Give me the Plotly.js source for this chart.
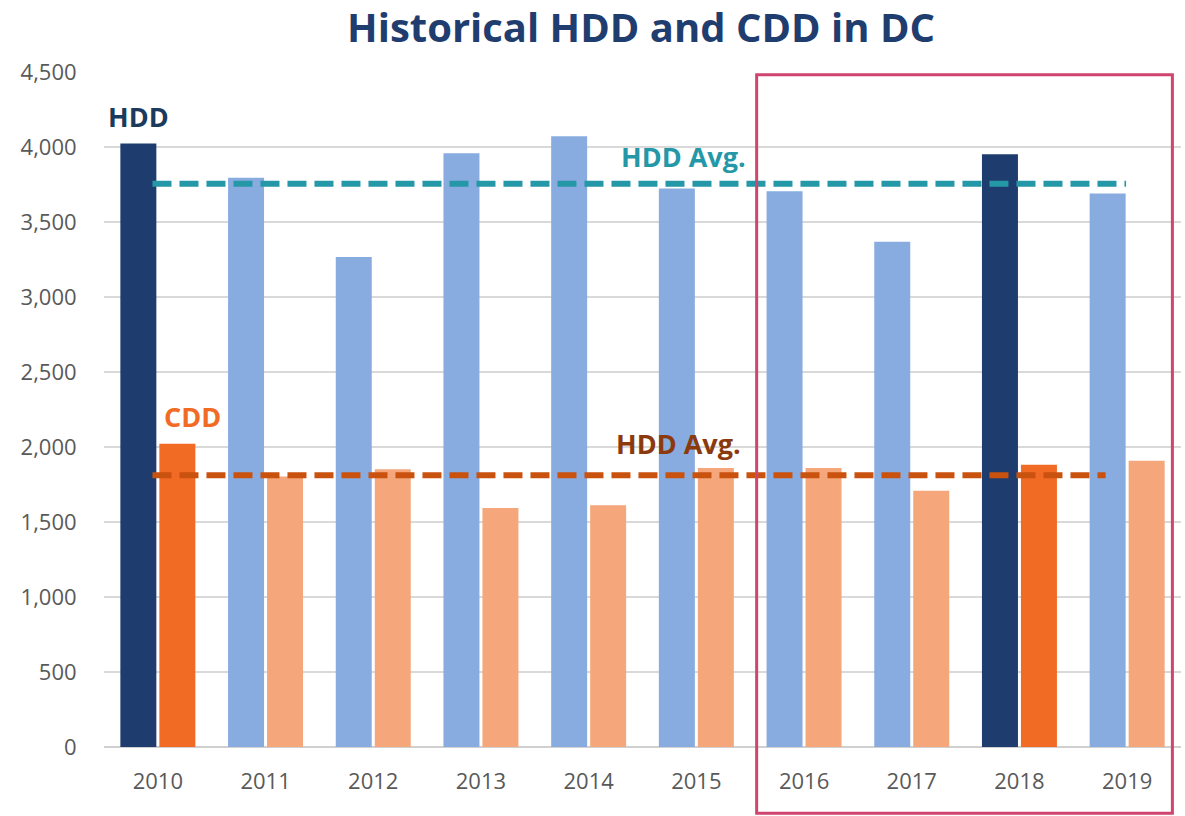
<!DOCTYPE html>
<html>
<head>
<meta charset="utf-8">
<script src="https://cdn.plot.ly/plotly-3.0.1.min.js"></script>
<style>
  html, body { margin: 0; padding: 0; background: #ffffff; }
  #chart { width: 1185px; height: 816px; }
</style>
</head>
<body>
<div id="chart"></div>
<script>
// ---- data ----
const years = ['2010', '2011', '2012', '2013', '2014', '2015', '2016', '2017', '2018', '2019'];
const hddValues = [4024, 3795, 3266, 3958, 4071, 3723, 3705, 3368, 3951, 3690];
const cddValues = [2022, 1804, 1851, 1593, 1611, 1860, 1860, 1709, 1882, 1909];
const highlightYears = ['2010', '2018'];
const hddAvg = 3755;
const cddAvg = 1811;
const yTicks = [0, 500, 1000, 1500, 2000, 2500, 3000, 3500, 4000, 4500];
const boxedYears = ['2016', '2019'];

// ---- styles ----
const HDD_DARK = '#1E3C6E', HDD_LIGHT = '#88ACE0';
const CDD_DARK = '#F26B25', CDD_LIGHT = '#F5A67B';
const hddColors = years.map(y => highlightYears.includes(y) ? HDD_DARK : HDD_LIGHT);
const cddColors = years.map(y => highlightYears.includes(y) ? CDD_DARK : CDD_LIGHT);

const FONT = 'Open Sans, Noto Sans, sans-serif';
const idx = y => years.indexOf(y);

const traces = [
  { type: 'bar', name: 'HDD', x: years, y: hddValues,
    marker: { color: hddColors, line: { width: 0 } }, hoverinfo: 'x+y' },
  { type: 'bar', name: 'CDD', x: years, y: cddValues,
    marker: { color: cddColors, line: { width: 0 } }, hoverinfo: 'x+y' }
];

const layout = {
  width: 1185, height: 816,
  paper_bgcolor: '#ffffff', plot_bgcolor: '#ffffff',
  margin: { l: 104, r: 4, t: 72, b: 69 },
  barmode: 'group',
  bargap: 0.276,
  bargroupgap: 0.077,
  showlegend: false,
  title: {
    text: '<b>Historical HDD and CDD in DC</b>',
    font: { family: FONT, size: 40, color: '#1F3D6E' },
    x: 0.541, xanchor: 'center', xref: 'container',
    y: 1 - 28 / 816, yanchor: 'middle', yref: 'container'
  },
  xaxis: {
    type: 'category',
    categoryorder: 'array', categoryarray: years,
    showgrid: false, zeroline: false, showline: false,
    ticks: 'outside', ticklen: 15, tickcolor: 'rgba(0,0,0,0)',
    tickfont: { family: FONT, size: 22, color: '#595959' },
    fixedrange: true
  },
  yaxis: {
    range: [0, 4500],
    tickvals: yTicks,
    tickformat: ',d',
    showgrid: true, gridcolor: '#D9D9D9', gridwidth: 1.5,
    zeroline: true, zerolinecolor: '#D0D0D0', zerolinewidth: 2,
    showline: false,
    ticks: 'outside', ticklen: 22, tickcolor: 'rgba(0,0,0,0)',
    tickfont: { family: FONT, size: 22, color: '#595959' },
    fixedrange: true
  },
  shapes: [
    { type: 'line', xref: 'x', yref: 'y', x0: -0.05, x1: 8.99, y0: hddAvg, y1: hddAvg,
      line: { color: '#2598A8', width: 6, dash: '19px,8px' }, layer: 'above' },
    { type: 'line', xref: 'x', yref: 'y', x0: -0.05, x1: 8.80, y0: cddAvg, y1: cddAvg,
      line: { color: '#C9520F', width: 6, dash: '19px,8px' }, layer: 'above' },
    { type: 'rect', xref: 'x', yref: 'paper',
      x0: idx(boxedYears[0]) - 0.44, x1: idx(boxedYears[1]) + 0.42,
      y0: -0.098, y1: 0.996,
      line: { color: '#D0456F', width: 3 }, fillcolor: 'rgba(0,0,0,0)', layer: 'above' }
  ],
  annotations: [
    { xref: 'x', yref: 'y', x: idx('2010') - 0.18, y: 4205, text: '<b>HDD</b>', showarrow: false,
      font: { family: FONT, size: 27, color: '#1B3A5C' }, xanchor: 'center', yanchor: 'middle' },
    { xref: 'x', yref: 'y', x: idx('2010') + 0.32, y: 2205, text: '<b>CDD</b>', showarrow: false,
      font: { family: FONT, size: 27, color: '#F26B25' }, xanchor: 'center', yanchor: 'middle' },
    { xref: 'x', yref: 'y', x: 4.88, y: 3935, text: '<b>HDD Avg.</b>', showarrow: false,
      font: { family: FONT, size: 27, color: '#2598A8' }, xanchor: 'center', yanchor: 'middle' },
    { xref: 'x', yref: 'y', x: 4.83, y: 2025, text: '<b>HDD Avg.</b>', showarrow: false,
      font: { family: FONT, size: 27, color: '#8B3A0E' }, xanchor: 'center', yanchor: 'middle' }
  ]
};

Plotly.newPlot('chart', traces, layout, { displayModeBar: false, responsive: false, staticPlot: true });
</script>
</body>
</html>
